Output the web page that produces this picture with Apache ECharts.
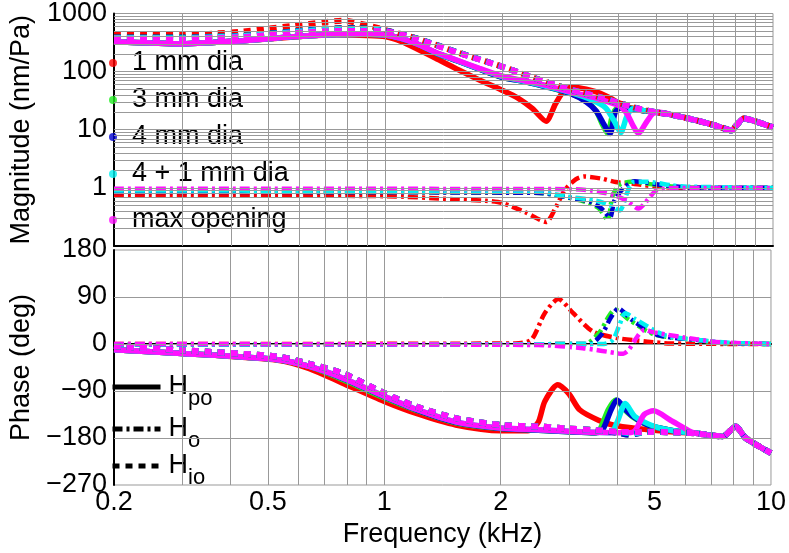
<!DOCTYPE html>
<html>
<head>
<meta charset="utf-8">
<script src="https://cdn.jsdelivr.net/npm/echarts@6/dist/echarts.min.js"></script>
<style>
html,body{margin:0;padding:0;background:#fff;}
#chart{width:789px;height:553px;}
</style>
</head>
<body>
<div id="chart"></div>
<script>
// ---------- tick labels / categories ----------
const FREQ_TICKS = [0.2, 0.5, 1, 2, 5, 10];
const FREQ_GRID = [0.3, 0.4, 0.5, 0.6, 0.7, 0.8, 0.9, 1, 2, 3, 4, 5, 6, 7, 8, 9];
const MAG_GRID = [0.2,0.3,0.4,0.5,0.6,0.7,0.8,0.9,1,2,3,4,5,6,7,8,9,10,20,30,40,50,60,70,80,90,100,200,300,400,500,600,700,800,900];
const PHASE_GRID = [-180, -90, 0, 90];
const SIZES = ['1 mm dia', '3 mm dia', '4 mm dia', '4 + 1 mm dia', 'max opening'];
const COLORS = ['#ff0000', '#22ee22', '#0000d0', '#00f0f0', '#ff10ff'];
const TYPES = ['Hpo', 'Ho', 'Hio'];
const TYPE_SUB = {Hpo: 'po', Ho: 'o', Hio: 'io'};

// ---------- magnitude, H_po (solid) ----------
const magPo_1mm = [[0.2,325],[0.25,310],[0.3,300],[0.36,318],[0.43,340],[0.5,365],[0.58,395],[0.66,418],[0.75,430],[0.9,420],[1.0,400],[1.1,330],[1.21,245],[1.35,170],[1.53,111],[1.75,72],[2.0,48],[2.2,35],[2.4,23],[2.6,14],[2.75,28],[2.9,48],[3.04,54],[3.3,50],[3.6,42],[3.9,32],[4.2,25],[4.6,21.5],[5.0,20],[5.5,18],[6.4,14.3],[7.2,11.5],[7.8,9.6],[8.1,12.5],[8.4,15.6],[9.0,14],[10,11]];
const magPo_3mm = [[0.2,325],[0.25,310],[0.3,300],[0.36,318],[0.43,340],[0.5,368],[0.58,400],[0.66,420],[0.75,435],[0.9,440],[1.0,425],[1.1,370],[1.21,298],[1.35,210],[1.53,154],[1.75,110],[2.0,80],[2.3,67],[2.6,55],[3.0,42],[3.3,31],[3.5,21],[3.62,13],[3.75,8.6],[3.85,17],[3.95,23],[4.2,24],[4.6,21.5],[5.0,20],[5.5,18],[6.4,14.3],[7.2,11.5],[7.8,9.6],[8.1,12.5],[8.4,15.6],[9.0,14],[10,11]];
const magPo_4mm = [[0.2,325],[0.25,310],[0.3,300],[0.36,318],[0.43,340],[0.5,368],[0.58,400],[0.66,420],[0.75,435],[0.9,440],[1.0,425],[1.1,370],[1.21,298],[1.35,210],[1.53,154],[1.75,110],[2.0,80],[2.3,67],[2.6,55],[3.0,42],[3.3,30],[3.5,21],[3.65,13],[3.8,8.6],[3.92,20],[4.05,24],[4.3,23],[4.6,21.5],[5.0,20],[5.5,18],[6.4,14.3],[7.2,11.5],[7.8,9.6],[8.1,12.5],[8.4,15.6],[9.0,14],[10,11]];
const magPo_4p1mm = [[0.2,325],[0.25,310],[0.3,300],[0.36,318],[0.43,340],[0.5,368],[0.58,400],[0.66,420],[0.75,435],[0.9,440],[1.0,425],[1.1,372],[1.21,300],[1.35,212],[1.53,156],[1.75,112],[2.0,82],[2.3,68],[2.6,56],[3.0,44],[3.4,33],[3.7,24],[3.9,14],[4.05,9],[4.2,17],[4.35,23],[4.7,21],[5.0,20],[5.5,18],[6.4,14.3],[7.2,11.5],[7.8,9.6],[8.1,12.5],[8.4,15.6],[9.0,14],[10,11]];
const magPo_max = [[0.2,325],[0.25,310],[0.3,300],[0.36,318],[0.43,340],[0.5,368],[0.58,400],[0.66,420],[0.75,435],[0.9,440],[1.0,425],[1.1,372],[1.21,300],[1.35,215],[1.53,158],[1.75,114],[2.0,84],[2.3,69],[2.6,58],[3.0,45],[3.5,35],[4.0,26],[4.2,19],[4.35,12],[4.5,8.6],[4.7,13],[4.9,19],[5.1,20],[5.5,18],[6.4,14.3],[7.2,11.5],[7.8,9.6],[8.1,12.5],[8.4,15.6],[9.0,14],[10,11]];

// ---------- magnitude, H_o (dash-dot) ----------
const magO_1mm = [[0.2,0.75],[1.0,0.72],[1.5,0.64],[1.82,0.6],[2.0,0.55],[2.3,0.38],[2.6,0.26],[2.75,0.45],[2.9,0.9],[3.1,1.4],[3.26,1.57],[3.6,1.45],[3.93,1.26],[4.4,1.17],[5.0,1.05],[6.0,1.0],[10,1.0]];
const magO_3mm = [[0.2,0.86],[2.5,0.82],[2.9,0.7],[3.3,0.57],[3.55,0.45],[3.75,0.28],[3.85,0.7],[4.0,1.1],[4.3,1.28],[5.0,1.12],[6.0,1.02],[10,1.0]];
const magO_4mm = [[0.2,0.85],[2.5,0.82],[2.9,0.7],[3.4,0.57],[3.6,0.45],[3.8,0.31],[3.9,0.6],[4.1,0.96],[4.4,1.3],[5.0,1.15],[6.0,1.02],[10,1.0]];
const magO_4p1mm = [[0.2,0.9],[2.5,0.86],[2.9,0.72],[3.5,0.6],[3.8,0.5],[4.03,0.41],[4.2,0.8],[4.35,1.25],[4.7,1.28],[5.5,1.1],[6.0,1.05],[10,1.0]];
const magO_max = [[0.2,0.97],[3.0,0.95],[3.4,0.9],[3.9,0.75],[4.2,0.6],[4.5,0.44],[4.75,0.62],[5.0,0.9],[5.6,1.0],[10,1.0]];

// ---------- magnitude, H_io (dashed) ----------
const magIo_1mm = [[0.2,431],[0.25,428],[0.3,426],[0.36,450],[0.43,490],[0.5,550],[0.58,615],[0.7,710],[0.78,750],[0.91,615],[1.0,520],[1.21,368],[1.53,216],[2.0,122],[2.3,88],[2.6,66],[3.04,48],[3.6,36],[4.0,29],[4.5,23],[5.0,20],[5.5,18],[6.4,14.3],[7.2,11.5],[7.8,9.8],[8.1,12.5],[8.4,15.6],[9.0,14],[10,11]];
const magIo_3mm = [[0.2,388],[0.25,386],[0.3,385],[0.36,398],[0.43,415],[0.5,450],[0.58,490],[0.7,545],[0.85,560],[1.0,510],[1.21,370],[1.53,218],[2.0,122],[2.3,88],[2.6,66],[3.04,48],[3.6,36],[4.0,29],[4.5,23],[5.0,20],[5.5,18],[6.4,14.3],[7.2,11.5],[7.8,9.8],[8.1,12.5],[8.4,15.6],[9.0,14],[10,11]];
const magIo_4mm = [[0.2,388],[0.25,386],[0.3,385],[0.36,398],[0.43,415],[0.5,450],[0.58,490],[0.7,545],[0.85,560],[1.0,510],[1.21,370],[1.53,218],[2.0,122],[2.3,88],[2.6,66],[3.04,48],[3.6,36],[4.0,29],[4.5,23],[5.0,20],[5.5,18],[6.4,14.3],[7.2,11.5],[7.8,9.8],[8.1,12.5],[8.4,15.6],[9.0,14],[10,11]];
const magIo_4p1mm = [[0.2,380],[0.25,378],[0.3,376],[0.36,390],[0.43,408],[0.5,440],[0.58,480],[0.7,530],[0.85,540],[1.0,500],[1.21,366],[1.53,216],[2.0,122],[2.3,88],[2.6,66],[3.04,48],[3.6,36],[4.0,29],[4.5,23],[5.0,20],[5.5,18],[6.4,14.3],[7.2,11.5],[7.8,9.8],[8.1,12.5],[8.4,15.6],[9.0,14],[10,11]];
const magIo_max = [[0.2,370],[0.25,367],[0.3,365],[0.36,378],[0.43,395],[0.5,425],[0.58,460],[0.7,495],[0.85,500],[1.0,491],[1.21,363],[1.53,214],[2.0,122],[2.3,88],[2.6,66],[3.04,48],[3.6,36],[4.0,29],[4.5,23],[5.0,20],[5.5,18],[6.4,14.3],[7.2,11.5],[7.8,9.8],[8.1,12.5],[8.4,15.6],[9.0,14],[10,11]];

// ---------- phase, H_po (solid) ----------
const phPo_1mm = [[0.2,-11],[0.3,-18],[0.53,-31],[0.64,-47],[0.78,-75],[1.0,-110],[1.21,-133],[1.53,-155],[2.0,-166],[2.35,-166],[2.5,-150],[2.6,-110],[2.81,-78],[3.0,-95],[3.2,-126],[3.58,-146],[3.9,-155],[4.5,-162],[5.0,-165],[5.5,-168],[6.4,-171],[7.5,-177],[8.1,-158],[8.6,-180],[10,-209]];
const phPo_3mm = [[0.2,-11],[0.3,-18],[0.53,-30],[0.64,-43],[0.78,-68],[1.0,-103],[1.21,-127],[1.53,-151],[2.0,-162],[2.5,-165],[3.0,-168],[3.5,-170],[3.6,-166],[3.8,-125],[3.97,-107],[4.2,-127],[4.4,-140],[4.8,-155],[5.5,-165],[6.4,-171],[7.5,-177],[8.1,-158],[8.6,-180],[10,-209]];
const phPo_4mm = [[0.2,-11],[0.3,-18],[0.53,-30],[0.64,-43],[0.78,-66],[1.0,-101],[1.21,-126],[1.53,-150],[2.0,-162],[2.5,-165],[3.0,-168],[3.5,-170],[3.66,-166],[3.85,-128],[4.0,-107],[4.2,-125],[4.4,-139],[4.8,-155],[5.5,-165],[6.4,-171],[7.5,-177],[8.1,-158],[8.6,-180],[10,-209]];
const phPo_4p1mm = [[0.2,-11],[0.3,-18],[0.53,-30],[0.64,-43],[0.78,-65],[1.0,-100],[1.21,-125],[1.53,-149],[2.0,-161],[2.5,-164],[3.0,-167],[3.5,-169],[3.85,-170],[4.0,-150],[4.2,-114],[4.45,-139],[5.0,-158],[5.5,-165],[6.4,-171],[7.5,-177],[8.1,-158],[8.6,-180],[10,-209]];
const phPo_max = [[0.2,-11],[0.3,-18],[0.53,-30],[0.64,-43],[0.78,-65],[1.0,-100],[1.21,-125],[1.53,-149],[2.0,-161],[2.5,-164],[3.0,-167],[3.5,-169],[4.3,-170],[4.45,-166],[4.7,-135],[4.97,-128],[5.5,-146],[6.2,-168],[6.4,-171],[7.5,-177],[8.1,-158],[8.6,-180],[10,-209]];

// ---------- phase, H_o (dash-dot) ----------
const phO_1mm = [[0.2,0],[2.18,1],[2.4,8],[2.6,59],[2.82,86],[3.08,59],[3.46,24],[4.03,11],[4.8,4.5],[5.5,1],[10,0]];
const phO_3mm = [[0.2,-1],[3.3,0],[3.6,22],[3.8,52],[3.95,66],[4.3,46],[5.0,18],[6.4,8],[7.5,2],[10,0]];
const phO_4mm = [[0.2,-1],[3.4,0],[3.66,20],[3.85,50],[4.03,68],[4.37,46],[5.1,17],[6.4,8],[7.5,2],[10,0]];
const phO_4p1mm = [[0.2,-1],[3.7,0],[3.9,8],[4.05,35],[4.2,59],[4.45,48],[5.3,17],[6.4,8],[8.0,2],[10,0]];
const phO_max = [[0.2,0],[2.5,-2],[3.26,-8],[4.03,-18],[4.15,-18.5],[4.3,-10],[4.45,8],[4.7,27],[5.0,22],[6.4,9],[7.5,3],[10,0]];

// ---------- phase, H_io (dashed) ----------
const phIo_1mm = [[0.2,-4],[0.3,-12],[0.53,-24],[0.64,-38],[0.78,-56],[1.0,-94],[1.21,-120],[1.53,-142],[2.0,-155],[2.5,-158],[3.0,-162],[3.5,-165],[4.0,-168],[4.5,-169],[5.0,-168],[5.5,-169],[6.4,-171],[7.5,-177],[8.1,-158],[8.6,-180],[10,-209]];
const phIo_3mm = [[0.2,-4],[0.3,-12],[0.53,-24],[0.64,-38],[0.78,-56],[1.0,-94],[1.21,-120],[1.53,-142],[2.0,-155],[2.5,-158],[3.0,-162],[3.5,-165],[4.0,-170],[4.3,-173],[4.8,-168],[5.5,-169],[6.4,-171],[7.5,-177],[8.1,-158],[8.6,-180],[10,-209]];
const phIo_4mm = [[0.2,-4],[0.3,-12],[0.53,-24],[0.64,-38],[0.78,-56],[1.0,-94],[1.21,-120],[1.53,-142],[2.0,-155],[2.5,-158],[3.0,-162],[3.5,-165],[4.0,-170],[4.3,-174],[4.8,-168],[5.5,-169],[6.4,-171],[7.5,-177],[8.1,-158],[8.6,-180],[10,-209]];
const phIo_4p1mm = [[0.2,-4],[0.3,-12],[0.53,-24],[0.64,-38],[0.78,-56],[1.0,-94],[1.21,-120],[1.53,-142],[2.0,-155],[2.5,-158],[3.0,-162],[3.5,-165],[4.0,-168],[4.4,-171],[4.9,-168],[5.5,-169],[6.4,-171],[7.5,-177],[8.1,-158],[8.6,-180],[10,-209]];
const phIo_max = [[0.2,-4],[0.3,-12],[0.53,-24],[0.64,-38],[0.78,-56],[1.0,-94],[1.21,-120],[1.53,-142],[2.0,-155],[2.5,-158],[3.0,-162],[3.5,-165],[4.0,-168],[4.5,-169],[5.0,-168],[5.5,-169],[6.4,-171],[7.5,-177],[8.1,-158],[8.6,-180],[10,-209]];

const MAG = {
  Hpo: [magPo_1mm, magPo_3mm, magPo_4mm, magPo_4p1mm, magPo_max],
  Ho:  [magO_1mm, magO_3mm, magO_4mm, magO_4p1mm, magO_max],
  Hio: [magIo_1mm, magIo_3mm, magIo_4mm, magIo_4p1mm, magIo_max]
};
const PHASE = {
  Hpo: [phPo_1mm, phPo_3mm, phPo_4mm, phPo_4p1mm, phPo_max],
  Ho:  [phO_1mm, phO_3mm, phO_4mm, phO_4p1mm, phO_max],
  Hio: [phIo_1mm, phIo_3mm, phIo_4mm, phIo_4p1mm, phIo_max]
};

// ---------- styles ----------
const LINE_TYPE = {Hpo: 'solid', Ho: [10, 4, 3, 4], Hio: [7, 6]};
const LINE_WIDTH = {Hpo: 5.5, Ho: 4.5, Hio: 6};
const FONT = '"Liberation Sans", Arial, sans-serif';
const FS = 27;

const chart = echarts.init(document.getElementById('chart'), null, {renderer: 'canvas'});

const series = [];
const gl = {color: '#999999', width: 1, type: 'solid'};
series.push({
  type: 'line', xAxisIndex: 0, yAxisIndex: 0, data: [], silent: true, z: 1,
  markLine: {silent: true, symbol: ['none', 'none'], label: {show: false}, lineStyle: gl, animation: false,
    data: FREQ_GRID.map(v => ({xAxis: v})).concat(MAG_GRID.map(v => ({yAxis: v})))}
});
series.push({
  type: 'line', xAxisIndex: 1, yAxisIndex: 1, data: [], silent: true, z: 1,
  markLine: {silent: true, symbol: ['none', 'none'], label: {show: false}, lineStyle: gl, animation: false,
    data: FREQ_GRID.map(v => ({xAxis: v})).concat(PHASE_GRID.map(v => ({yAxis: v})))}
});

TYPES.forEach(t => {
  SIZES.forEach((s, i) => {
    series.push({
      name: s + ' ' + t + ' mag', type: 'line', xAxisIndex: 0, yAxisIndex: 0,
      data: MAG[t][i], showSymbol: false, symbol: 'none', smooth: 0.25, silent: true, z: 3,
      lineStyle: {color: COLORS[i], width: LINE_WIDTH[t], type: LINE_TYPE[t]}
    });
    series.push({
      name: s + ' ' + t + ' phase', type: 'line', xAxisIndex: 1, yAxisIndex: 1,
      data: PHASE[t][i], showSymbol: false, symbol: 'none', smooth: 0.25, silent: true, z: 3,
      lineStyle: {color: COLORS[i], width: LINE_WIDTH[t], type: LINE_TYPE[t]}
    });
  });
});

// legend carriers
SIZES.forEach((s, i) => {
  series.push({name: s, type: 'scatter', data: [], itemStyle: {color: COLORS[i]}, xAxisIndex: 0, yAxisIndex: 0});
});
TYPES.forEach(t => {
  series.push({name: t, type: 'line', data: [], symbol: 'none', showSymbol: false, xAxisIndex: 1, yAxisIndex: 1,
    itemStyle: {color: '#000'}, lineStyle: {color: '#000', width: 5, type: LINE_TYPE[t]}});
});

const legendText = {fontFamily: FONT, fontSize: FS, color: '#000', lineHeight: 30, padding: [0, 0, 0, 10]};
const subRich = {
  h: {fontFamily: FONT, fontSize: FS, color: '#000', lineHeight: 30},
  s: {fontFamily: FONT, fontSize: 22, color: '#000', lineHeight: 22, padding: [24, 0, 0, 0]}
};
function typeLegend(t, top) {
  return {
    data: [t], left: 110, top: top, orient: 'vertical', itemWidth: 48, itemHeight: 14, padding: 0,
    selectedMode: false,
    itemStyle: {opacity: 0, borderWidth: 0},
    lineStyle: {width: 5},
    formatter: n => '{h|H}{s|' + TYPE_SUB[n] + '}',
    textStyle: {rich: subRich, fontFamily: FONT, fontSize: FS, color: '#000', padding: [0, 0, 0, 3]}
  };
}

const option = {
  animation: false,
  backgroundColor: '#fff',
  textStyle: {fontFamily: FONT},
  grid: [
    {left: 100, right: 16, top: 13, height: 233, show: true, borderColor: '#999999', borderWidth: 1, containLabel: false},
    {left: 100, right: 16, top: 250, height: 235, show: true, borderColor: '#999999', borderWidth: 1, containLabel: false}
  ],
  legend: [
    {data: SIZES.slice(0, 4), left: 109, top: 48, orient: 'vertical', icon: 'circle', itemWidth: 8, itemHeight: 8,
      itemGap: 7, padding: 0, selectedMode: false, textStyle: legendText},
    {data: SIZES.slice(4), left: 109, top: 205, orient: 'vertical', icon: 'circle', itemWidth: 8, itemHeight: 8,
      padding: 0, selectedMode: false, textStyle: legendText},
    typeLegend('Hpo', 364),
    typeLegend('Ho', 406),
    typeLegend('Hio', 443)
  ],
  xAxis: [
    {type: 'log', logBase: 10, gridIndex: 0, min: 0.2, max: 10,
      axisLine: {show: true, lineStyle: {color: '#000', width: 2}}, axisTick: {show: false},
      axisLabel: {show: false}, splitLine: {show: false}, minorSplitLine: {show: false}},
    {type: 'log', logBase: 10, gridIndex: 1, min: 0.2, max: 10,
      axisLine: {show: true, lineStyle: {color: '#000', width: 2}}, axisTick: {show: false},
      axisLabel: {show: true, customValues: FREQ_TICKS, fontFamily: FONT, fontSize: FS, color: '#000', margin: 4,
        formatter: v => String(+v.toPrecision(3))},
      splitLine: {show: false},
      name: 'Frequency (kHz)', nameLocation: 'middle', nameGap: 36,
      nameTextStyle: {fontFamily: FONT, fontSize: FS, color: '#000'}}
  ],
  yAxis: [
    {type: 'log', logBase: 10, gridIndex: 0, min: 0.1, max: 1000,
      axisLine: {show: true, lineStyle: {color: '#000', width: 2}}, axisTick: {show: false},
      axisLabel: {fontFamily: FONT, fontSize: FS, color: '#000', margin: 7,
        formatter: v => (v < 0.5 ? '' : String(Math.round(v)))},
      splitLine: {show: false},
      name: 'Magnitude (nm/Pa)', nameLocation: 'middle', nameGap: 79,
      nameTextStyle: {fontFamily: FONT, fontSize: FS, color: '#000'}},
    {type: 'value', gridIndex: 1, min: -270, max: 180, interval: 90,
      axisLine: {show: true, onZero: false, lineStyle: {color: '#000', width: 2}}, axisTick: {show: false},
      axisLabel: {fontFamily: FONT, fontSize: FS, color: '#000', margin: 7,
        formatter: v => String(v).replace('-', '\u2212')},
      splitLine: {show: false},
      name: 'Phase (deg)', nameLocation: 'middle', nameGap: 79,
      nameTextStyle: {fontFamily: FONT, fontSize: FS, color: '#000'}}
  ],
  series: series
};
chart.setOption(option);
</script>
</body>
</html>
